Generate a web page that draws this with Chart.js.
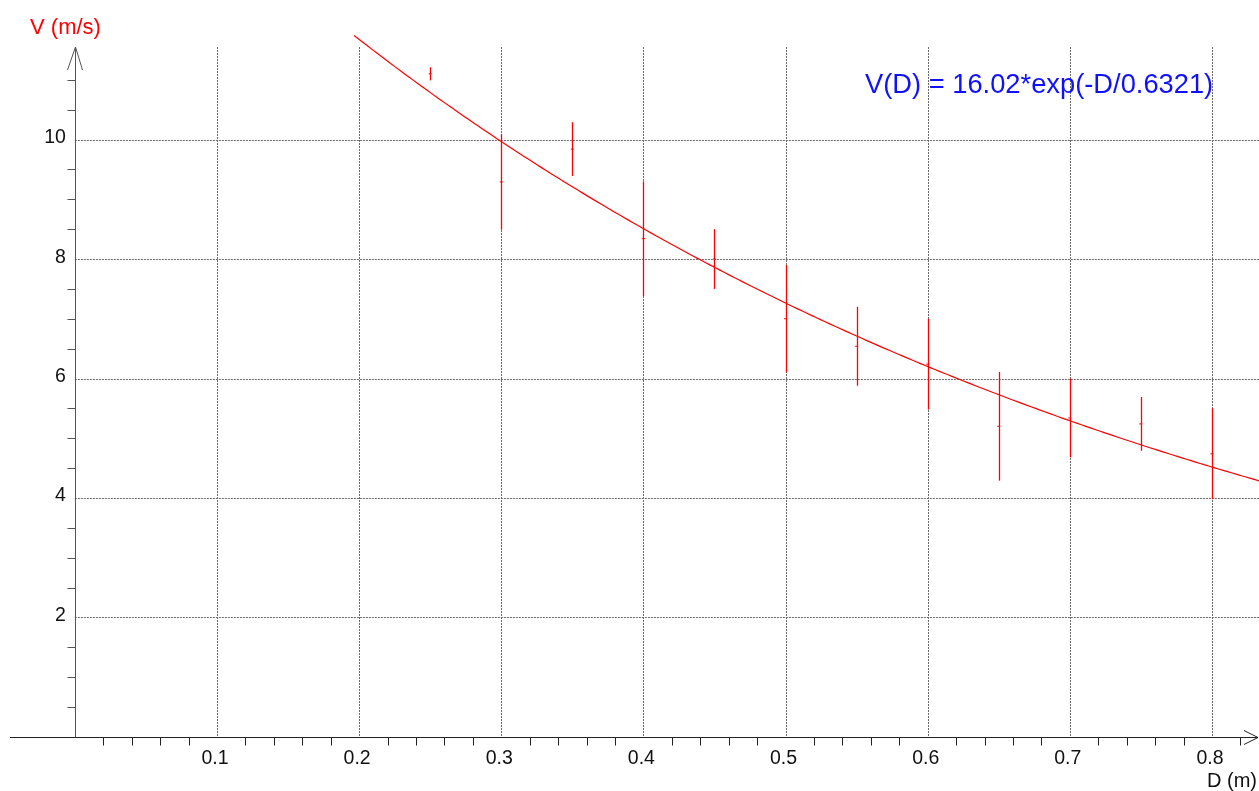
<!DOCTYPE html>
<html>
<head>
<meta charset="utf-8">
<title>V(D)</title>
<script src="https://cdn.jsdelivr.net/npm/chart.js@4/dist/chart.umd.min.js"></script>
<style>
  html, body { margin: 0; padding: 0; background: #ffffff; }
  canvas { display: block; }
</style>
</head>
<body>
<canvas id="chart" width="1259" height="791"></canvas>
<script>
// Measured speeds with their uncertainty
const distances   = [0.25, 0.30, 0.35, 0.40, 0.45, 0.50, 0.55, 0.60, 0.65, 0.70, 0.75, 0.80];
const speeds      = [11.10, 9.29, 9.84, 8.34, 8.00, 7.00, 6.54, 6.24, 5.20, 5.34, 5.24, 4.74];
const speedErrors = [0.11, 0.80, 0.45, 0.96, 0.50, 0.90, 0.66, 0.76, 0.91, 0.66, 0.45, 0.76];

// Exponential fit parameters: V(D) = A * exp(-D / tau)
const fitA = 16.02;
const fitTau = 0.6321;
const fitStart = 0.1964;
const fitEnd = 0.84;

// Axis ticks and labels
const xTickValues = [0.1, 0.2, 0.3, 0.4, 0.5, 0.6, 0.7, 0.8];
const xTickLabels = ['0.1', '0.2', '0.3', '0.4', '0.5', '0.6', '0.7', '0.8'];
const yTickValues = [2, 4, 6, 8, 10];
const yTickLabels = ['2', '4', '6', '8', '10'];
const xMinorStep = 0.02;
const yMinorStep = 0.5;

const xAxisTitle = 'D (m)';
const yAxisTitle = 'V (m/s)';
const fitLabel = 'V(D) = 16.02*exp(-D/0.6321)';

const FONT = '"Liberation Sans", Arial, sans-serif';

// Sample the fitted curve along D
const fitPoints = [];
const fitSteps = 200;
for (let i = 0; i <= fitSteps; i++) {
  const d = fitStart + (fitEnd - fitStart) * i / fitSteps;
  fitPoints.push({ x: d, y: fitA * Math.exp(-d / fitTau) });
}

const measured = distances.map((d, i) => ({ x: d, y: speeds[i] }));

// Grid, axes, arrows, ticks and labels drawn from the chart's scales
const axesPlugin = {
  id: 'physAxes',
  beforeDatasetsDraw(chart) {
    const { ctx, scales: { x, y }, width } = chart;
    const x0 = x.getPixelForValue(0);
    const y0 = y.getPixelForValue(0);
    const yTop = 47;
    ctx.save();

    // dotted grid
    ctx.strokeStyle = '#6a6a6a';
    ctx.lineWidth = 1;
    ctx.setLineDash([2, 1]);
    xTickValues.forEach(v => {
      const px = Math.round(x.getPixelForValue(v)) + 0.5;
      ctx.beginPath();
      ctx.moveTo(px, yTop);
      ctx.lineTo(px, y0);
      ctx.stroke();
    });
    yTickValues.forEach(v => {
      const py = Math.round(y.getPixelForValue(v)) + 0.5;
      ctx.beginPath();
      ctx.moveTo(x0, py);
      ctx.lineTo(width, py);
      ctx.stroke();
    });
    ctx.setLineDash([]);

    // vertical axis with open arrow
    const ax = Math.round(x0) + 0.5;
    ctx.strokeStyle = '#555555';
    ctx.beginPath();
    ctx.moveTo(ax, yTop);
    ctx.lineTo(ax, y0);
    ctx.moveTo(ax - 8, yTop + 23);
    ctx.lineTo(ax, yTop);
    ctx.lineTo(ax + 7, yTop + 23);
    ctx.stroke();

    // minor ticks on the vertical axis
    for (let v = yMinorStep; v <= 11.01; v += yMinorStep) {
      if (yTickValues.some(t => Math.abs(t - v) < 1e-6)) continue;
      const py = Math.round(y.getPixelForValue(v)) + 0.5;
      ctx.beginPath();
      ctx.moveTo(ax - 8, py);
      ctx.lineTo(ax, py);
      ctx.stroke();
    }

    // horizontal axis with open arrow
    const ay = Math.round(y0) + 0.5;
    ctx.strokeStyle = '#222222';
    ctx.beginPath();
    ctx.moveTo(10, ay);
    ctx.lineTo(1258, ay);
    ctx.moveTo(1244, ay - 7);
    ctx.lineTo(1258, ay);
    ctx.lineTo(1244, ay + 7);
    ctx.stroke();

    // minor ticks below the horizontal axis
    for (let k = 1; k * xMinorStep <= 0.821; k++) {
      if (k % 5 === 0) continue;
      const px = Math.round(x.getPixelForValue(k * xMinorStep)) + 0.5;
      ctx.beginPath();
      ctx.moveTo(px, ay);
      ctx.lineTo(px, ay + 8);
      ctx.stroke();
    }

    // tick labels
    ctx.fillStyle = '#111111';
    ctx.font = '19.5px ' + FONT;
    ctx.textAlign = 'center';
    ctx.textBaseline = 'alphabetic';
    xTickValues.forEach((v, i) => {
      ctx.fillText(xTickLabels[i], x.getPixelForValue(v) - 2, y0 + 27);
    });
    ctx.textAlign = 'right';
    yTickValues.forEach((v, i) => {
      ctx.fillText(yTickLabels[i], x0 - 9, y.getPixelForValue(v) + 3.5);
    });

    // axis titles
    ctx.font = '20px ' + FONT;
    ctx.textAlign = 'right';
    ctx.fillText(xAxisTitle, 1257, 787);
    ctx.fillStyle = '#ff0000';
    ctx.font = '22px ' + FONT;
    ctx.textAlign = 'center';
    ctx.fillText(yAxisTitle, 65.5, 34);

    // fit equation
    ctx.fillStyle = '#1010ff';
    ctx.font = '27.3px ' + FONT;
    ctx.textAlign = 'left';
    ctx.fillText(fitLabel, 865, 93);

    // error bars
    ctx.strokeStyle = '#ff0000';
    ctx.lineWidth = 1.3;
    distances.forEach((d, i) => {
      const px = Math.round(x.getPixelForValue(d)) + 0.5;
      ctx.beginPath();
      ctx.moveTo(px, y.getPixelForValue(speeds[i] + speedErrors[i]));
      ctx.lineTo(px, y.getPixelForValue(speeds[i] - speedErrors[i]));
      ctx.stroke();
    });
    ctx.restore();
  }
};

new Chart(document.getElementById('chart'), {
  type: 'scatter',
  data: {
    datasets: [
      {
        label: 'fit',
        type: 'line',
        data: fitPoints,
        borderColor: '#ff0000',
        borderWidth: 1.2,
        pointRadius: 0,
        pointHoverRadius: 0,
        tension: 0,
        fill: false
      },
      {
        label: 'mesures',
        data: measured,
        pointStyle: 'line',
        pointRadius: 1.5,
        pointHoverRadius: 1.5,
        borderColor: '#ff0000',
        backgroundColor: '#ff0000',
        borderWidth: 1
      }
    ]
  },
  options: {
    responsive: false,
    animation: false,
    devicePixelRatio: 1,
    layout: { padding: 0, autoPadding: false },
    plugins: {
      legend: { display: false },
      tooltip: { enabled: false },
      title: { display: false }
    },
    scales: {
      x: { type: 'linear', display: false, min: -0.05267, max: 0.8331 },
      y: { type: 'linear', display: false, min: -0.904, max: 12.335 }
    }
  },
  plugins: [axesPlugin]
});
</script>
</body>
</html>
